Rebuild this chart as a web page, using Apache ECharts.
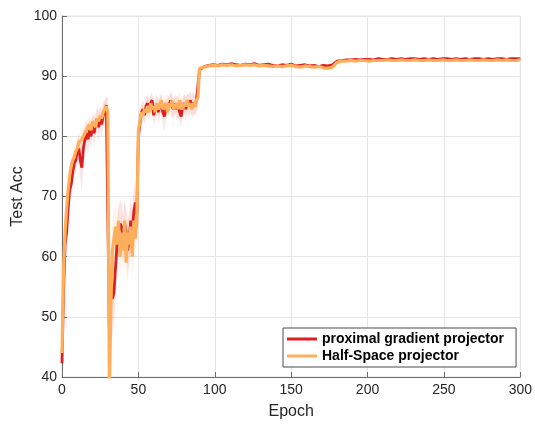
<!DOCTYPE html>
<html lang="en">
<head>
    <meta charset="UTF-8">
    <title>Test Acc</title>
    <script src="https://cdn.jsdelivr.net/npm/echarts@6/dist/echarts.min.js"></script>
    <style>
        html, body { margin: 0; padding: 0; background: #fff; }
        #chart { width: 535px; height: 425px; }
    </style>
</head>
<body>
<div id="chart"></div>
<script>
    // epochs 0..90 every epoch, then 93..300 every 3 epochs
    var lateStart = 93, lateStep = 3;

    // proximal gradient projector, epochs 0..90
    var redEarly = [
        42.3, 54, 62, 64, 68, 71, 72, 74, 75.5, 76,
        77.5, 78, 76, 74.8, 78, 79.5, 80.5, 79.5, 81, 80,
        82, 80.5, 82, 83, 81.5, 83, 82, 83.5, 84, 85.2,
        85, 48, 56, 53, 54, 58, 62, 64, 65.5, 65,
        63, 65.5, 64, 61, 63, 66, 64, 67.5, 69, 67,
        80, 82, 84, 84.5, 83.5, 85, 85.5, 84.5, 85.5, 86,
        83.5, 84.5, 85.5, 84, 85, 85.5, 84, 83.3, 84.5, 85.5,
        85, 86, 85, 84.5, 85.5, 84.5, 85, 84, 83.3, 85,
        85.5, 84.5, 85.5, 85, 86, 85, 85.5, 85, 86, 86,
        91
    ];
    // Half-Space projector, epochs 0..90
    var orangeEarly = [
        44, 58, 64, 68, 71, 73.5, 75, 76, 76.5, 77.5,
        78, 79, 79, 79.5, 80, 80.5, 81, 81.5, 82, 81,
        82.5, 82, 81.5, 83, 82.5, 83.5, 83, 84, 84.5, 85,
        84, 37, 52, 61, 63, 65, 62, 66, 60, 64,
        61, 66, 59, 64, 62, 65, 60, 66, 63, 66,
        81, 82.5, 84, 83.5, 84.5, 84, 85, 84, 85.5, 84.5,
        85, 84, 85.5, 84.5, 85, 86, 84.5, 85, 85.5, 84,
        85.5, 85, 86, 84.5, 85, 85.5, 84.5, 86, 85, 84.5,
        85.5, 85, 86, 85, 85.5, 84.5, 85.5, 85, 86, 86.5,
        91.3
    ];
    // epochs 93..300 step 3
    var redLate = [
        91.6, 91.8, 91.9, 91.8, 92.0, 91.9, 92.1, 91.9, 91.8, 92.0,
        91.9, 92.1, 91.8, 91.9, 92.0, 91.8, 91.7, 91.9, 91.8, 92.0,
        91.7, 91.8, 91.9, 91.7, 91.8, 91.6, 91.8, 91.7, 91.9,
        92.5, 92.6, 92.7, 92.7, 92.8, 92.7, 92.8, 92.8, 92.7, 92.9,
        92.8, 92.8, 92.9, 92.8, 92.9, 92.8, 92.9, 92.9, 92.8, 92.9,
        92.8, 92.9, 92.8, 92.9, 92.9, 92.8, 92.9, 92.8, 92.9, 92.8,
        92.9, 92.9, 92.8, 92.9, 92.8, 92.9, 92.9, 92.8, 92.9, 92.9,
        92.9
    ];
    var orangeLate = [
        91.5, 91.7, 91.8, 91.7, 91.9, 91.8, 91.9, 91.7, 91.8, 91.9,
        91.8, 91.9, 91.7, 91.8, 91.7, 91.6, 91.7, 91.6, 91.7, 91.8,
        91.6, 91.5, 91.7, 91.6, 91.5, 91.6, 91.4, 91.3, 91.5,
        92.3, 92.5, 92.5, 92.6, 92.5, 92.6, 92.6, 92.5, 92.6, 92.6,
        92.6, 92.7, 92.6, 92.6, 92.7, 92.6, 92.6, 92.7, 92.6, 92.6,
        92.7, 92.6, 92.6, 92.7, 92.6, 92.6, 92.7, 92.6, 92.6, 92.7,
        92.6, 92.6, 92.7, 92.6, 92.6, 92.7, 92.6, 92.7, 92.6, 92.6,
        92.7
    ];
    // shaded spread (half width) over epochs 0..90
    var redSpread = [
        1, 3, 3, 2.5, 2, 2, 2, 2, 2, 2,
        2, 2, 3, 4, 3, 2, 2, 2.5, 2, 2,
        2, 2.5, 2, 2, 2.5, 2, 2, 2, 2, 1.5,
        1.5, 6, 5, 6, 5, 5, 4, 4, 4, 4,
        4, 4, 4, 5, 4, 4, 4, 4, 4, 3,
        2, 2, 1.5, 1.5, 1.5, 1.5, 1.5, 1.5, 1.5, 1.5,
        2, 1.5, 1.5, 2, 1.5, 1.5, 2, 2.5, 1.5, 1.5,
        1.5, 1.5, 2, 1.5, 1.5, 2, 2, 1.5, 2, 1.5,
        1.5, 2, 1.5, 2, 1.5, 2, 2, 1.5, 2, 1.5,
        0.4
    ];
    var orangeSpread = [
        1, 2, 2, 2, 1.5, 1.5, 1.5, 1.5, 1.5, 1.5,
        1.5, 1.5, 1.5, 2, 1.5, 1.5, 1.5, 1.5, 1.5, 1.5,
        1.5, 1.5, 1.5, 1.5, 1.5, 1.5, 1.5, 1.5, 1.5, 1.5,
        1.5, 5, 5, 5, 5, 4, 4, 4, 4, 4,
        4, 4, 4, 4, 4, 4, 4, 4, 4, 3,
        1.5, 1.5, 1.5, 1.5, 1.5, 1.5, 1.5, 1.5, 1.5, 1.5,
        1.5, 1.5, 1.5, 1.5, 1.5, 1.5, 1.5, 1.5, 1.5, 1.5,
        1.5, 1.5, 1.5, 1.5, 1.5, 1.5, 1.5, 1.5, 1.5, 1.5,
        1.5, 1.5, 1.5, 1.5, 1.5, 1.5, 1.5, 1.5, 1.5, 1.5,
        0.4
    ];
    var xTicks = [0, 50, 100, 150, 200, 250, 300];
    var yTicks = [40, 50, 60, 70, 80, 90, 100];
    var names = ['proximal gradient projector', 'Half-Space projector'];
    var red = '#dc2020', orange = '#ffae5c';

    function pairs(early, late) {
        var out = [];
        for (var i = 0; i < early.length; i++) out.push([i, early[i]]);
        for (var j = 0; j < late.length; j++) out.push([lateStart + j * lateStep, late[j]]);
        return out;
    }
    // shaded band drawn as one polygon through the axes' coord()
    function band(mean, spread, color) {
        return {
            type: 'custom', silent: true, z: 1,
            data: [[0, mean[0]]],
            renderItem: function (params, api) {
                var pts = [], i;
                for (i = 0; i < mean.length; i++) pts.push(api.coord([i, mean[i] + spread[i]]));
                for (i = mean.length - 1; i >= 0; i--) pts.push(api.coord([i, mean[i] - spread[i]]));
                var cs = params.coordSys;
                return {
                    type: 'polygon',
                    shape: {points: pts},
                    style: {fill: color},
                    clipPath: {type: 'rect', shape: {x: cs.x, y: cs.y, width: cs.width, height: cs.height}}
                };
            }
        };
    }

    var labelFont = {color: '#262626', fontSize: 14, fontFamily: 'Liberation Sans, Arial, sans-serif'};
    var series = [
        band(redEarly, redSpread, 'rgba(220,40,60,0.12)'),
        band(orangeEarly, orangeSpread, 'rgba(255,170,100,0.14)'),
        {
            name: names[0], type: 'line', data: pairs(redEarly, redLate), symbol: 'none',
            lineStyle: {color: red, width: 2.8}, itemStyle: {color: red}, z: 3
        }, {
            name: names[1], type: 'line', data: pairs(orangeEarly, orangeLate), symbol: 'none',
            lineStyle: {color: orange, width: 3.2}, itemStyle: {color: orange}, z: 4
        }
    ];

    var chart = echarts.init(document.getElementById('chart'));
    chart.setOption({
        animation: false,
        grid: {left: 62, right: 14, top: 16, bottom: 48, show: true,
               borderColor: '#e3e3e3', borderWidth: 1, backgroundColor: '#fff'},
        legend: {
            data: names, orient: 'vertical', left: 283, top: 328,
            backgroundColor: '#fff', borderColor: '#4a4a4a', borderWidth: 1,
            padding: [4, 12, 4, 4], itemGap: 3, itemWidth: 30, itemHeight: 3,
            icon: 'rect',
            textStyle: {color: '#000', fontSize: 14, fontWeight: 'bold',
                        fontFamily: 'Liberation Sans, Arial, sans-serif'}
        },
        xAxis: {
            type: 'value', min: xTicks[0], max: xTicks[xTicks.length - 1], interval: 50,
            name: 'Epoch', nameLocation: 'middle', nameGap: 27, nameMoveOverlap: false,
            nameTextStyle: {color: '#262626', fontSize: 16, fontFamily: 'Liberation Sans, Arial, sans-serif'},
            axisLine: {show: true, lineStyle: {color: '#6b6b6b'}},
            axisTick: {show: true, inside: true, length: 5, lineStyle: {color: '#6b6b6b'}},
            axisLabel: Object.assign({margin: 6}, labelFont),
            splitLine: {show: true, lineStyle: {color: '#e6e6e6'}}
        },
        yAxis: {
            type: 'value', min: yTicks[0], max: yTicks[yTicks.length - 1], interval: 10,
            name: 'Test Acc', nameLocation: 'middle', nameGap: 36, nameRotate: 90, nameMoveOverlap: false,
            nameTextStyle: {color: '#262626', fontSize: 16, fontFamily: 'Liberation Sans, Arial, sans-serif'},
            axisLine: {show: true, lineStyle: {color: '#6b6b6b'}},
            axisTick: {show: true, inside: true, length: 5, lineStyle: {color: '#6b6b6b'}},
            axisLabel: Object.assign({margin: 5}, labelFont),
            splitLine: {show: true, lineStyle: {color: '#e6e6e6'}}
        },
        series: series
    });
</script>
</body>
</html>
